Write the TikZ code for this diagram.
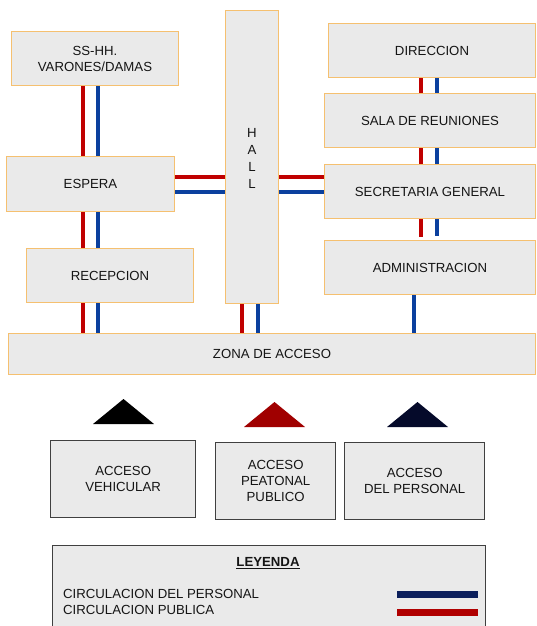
\documentclass[tikz,border=0pt]{standalone}
\usepackage{fontspec}
\setmainfont{Liberation Sans}
\definecolor{boxor}{HTML}{F5C070}
\definecolor{boxfill}{HTML}{EAEAEA}
\definecolor{txt}{HTML}{151515}
\definecolor{dk}{HTML}{404040}
\definecolor{cred}{HTML}{C00000}
\definecolor{cblue}{HTML}{0B409E}
\definecolor{tred}{HTML}{A00000}
\definecolor{tnavy}{HTML}{050A2A}
\definecolor{lnavy}{HTML}{0B1E5B}
\definecolor{lred}{HTML}{B00000}
\newcommand{\fs}{\fontsize{13.2pt}{16pt}\selectfont}
\begin{document}
\begin{tikzpicture}[x=1pt,y=-1pt,
  room/.style={draw=boxor, fill=boxfill, line width=1pt, inner sep=0pt, align=center, anchor=north west, font=\fs, text=txt},
  accbox/.style={draw=dk, fill=boxfill, line width=1.3pt, inner sep=0pt, align=center, anchor=north west, font=\fs, text=txt},
  pub/.style={line width=3.6pt, draw=cred},
  per/.style={line width=3.6pt, draw=cblue},
  lbl/.style={font=\fs, text=txt, inner sep=0pt}]
\useasboundingbox (0,0) rectangle (536,626);
\clip (0,0) rectangle (536,626);
% rooms
\node[room, minimum width=167pt, minimum height=54pt] (sshh) at (11,31) {SS-HH.\\VARONES/DAMAS};
\node[room, minimum width=168pt, minimum height=55pt] (espera) at (6,156) {ESPERA};
\node[room, minimum width=167pt, minimum height=54pt] (recep) at (26,248) {RECEPCION};
\node[room, minimum width=53pt, minimum height=293pt] (hall) at (225,10) {};
\node[lbl, align=center, font={\fontsize{13.2pt}{17pt}\selectfont}] (halltxt) at (252,158) {H\\A\\L\\L};
\node[room, minimum width=207pt, minimum height=54pt] (direc) at (328,23) {DIRECCION};
\node[room, minimum width=211pt, minimum height=54pt] (sala) at (324,93) {SALA DE REUNIONES};
\node[room, minimum width=211pt, minimum height=54pt] (secre) at (324,164) {SECRETARIA GENERAL};
\node[room, minimum width=211pt, minimum height=54pt] (admin) at (324,240) {ADMINISTRACION};
\node[room, minimum width=527pt, minimum height=41pt] (zona) at (8,333) {ZONA DE ACCESO};
% access boxes
\node[accbox, minimum width=145pt, minimum height=77pt] (vehic) at (50,440) {ACCESO\\VEHICULAR};
\node[accbox, minimum width=120pt, minimum height=77pt] (peat) at (215,442) {ACCESO\\PEATONAL\\PUBLICO};
\node[accbox, minimum width=140pt, minimum height=77pt] (pers) at (344,442) {ACCESO\\DEL PERSONAL};
% connector guide coordinates
\coordinate (xa) at (83,0);
\coordinate (xb) at (98,0);
\coordinate (xc) at (242,0);
\coordinate (xd) at (258,0);
\coordinate (xe) at (421,0);
\coordinate (xf) at (437,0);
\coordinate (xg) at (414,0);
\coordinate (ya) at (0,177);
\coordinate (yb) at (0,192);
% left column
\draw[pub] (sshh.south -| xa) -- (espera.north -| xa);
\draw[per] (sshh.south -| xb) -- (espera.north -| xb);
\draw[pub] (espera.south -| xa) -- (recep.north -| xa);
\draw[per] (espera.south -| xb) -- (recep.north -| xb);
\draw[pub] (recep.south -| xa) -- (zona.north -| xa);
\draw[per] (recep.south -| xb) -- (zona.north -| xb);
% espera - hall - secretaria
\draw[pub] (espera.east |- ya) -- (hall.west |- ya);
\draw[per] (espera.east |- yb) -- (hall.west |- yb);
\draw[pub] (hall.east |- ya) -- (secre.west |- ya);
\draw[per] (hall.east |- yb) -- (secre.west |- yb);
% hall - zona
\draw[pub] (hall.south -| xc) -- (zona.north -| xc);
\draw[per] (hall.south -| xd) -- (zona.north -| xd);
% right column
\draw[pub] (direc.south -| xe) -- (sala.north -| xe);
\draw[per] (direc.south -| xf) -- (sala.north -| xf);
\draw[pub] (sala.south -| xe) -- (secre.north -| xe);
\draw[per] (sala.south -| xf) -- (secre.north -| xf);
\draw[pub] (secre.south -| xe) -- ([yshift=3pt]admin.north -| xe);
\draw[per] (secre.south -| xf) -- ([yshift=4pt]admin.north -| xf);
\draw[per] (admin.south -| xg) -- (zona.north -| xg);
% triangles
\fill[black] (93,424) -- (123.5,399) -- (154,424) -- cycle;
\fill[tred] (244,427) -- (274.5,402) -- (305,427) -- cycle;
\fill[tnavy] (387,427) -- (417.5,402) -- (448,427) -- cycle;
% legend
\node[accbox, minimum width=433pt, minimum height=100pt] (leyenda) at (52,545) {};
\node[lbl, font=\fs\bfseries] (leytitle) at (268,563) {\underline{LEYENDA}};
\node[lbl, anchor=west] (lper) at (63,594) {CIRCULACION DEL PERSONAL};
\node[lbl, anchor=west] (lpub) at (63,610) {CIRCULACION PUBLICA};
\coordinate (lpa) at (397,594);
\coordinate (lpb) at (478,594);
\coordinate (lra) at (397,612);
\coordinate (lrb) at (478,612);
\draw[line width=7pt, lnavy] (lpa) -- (lpb);
\draw[line width=7pt, lred] (lra) -- (lrb);
\end{tikzpicture}
\end{document}
